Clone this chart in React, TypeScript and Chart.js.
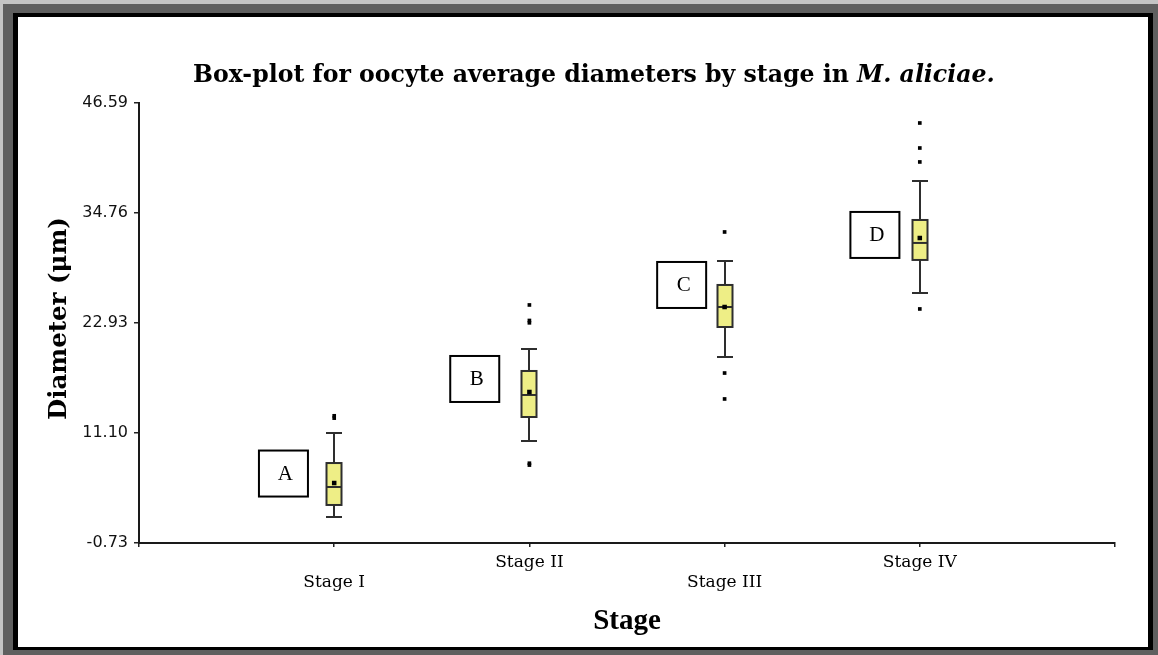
import React, { useEffect, useRef } from "react";
import { Chart, registerables } from "chart.js";

Chart.register(...registerables);

// ---- Data ----
const categories = ["Stage I", "Stage II", "Stage III", "Stage IV"];
const groupLetters = ["A", "B", "C", "D"];
const whiskerLow = [2.07, 10.24, 19.27, 26.16];
const q1 = [3.36, 12.82, 22.5, 29.71];
const median = [5.29, 15.19, 24.65, 31.54];
const q3 = [7.87, 17.77, 27.02, 34.01];
const whiskerHigh = [11.1, 20.13, 29.6, 38.2];
const means = [5.72, 15.51, 24.65, 32.07];
const outliers = [
  [12.95, 12.7],
  [24.87, 23.2, 22.95, 7.85, 7.65],
  [32.72, 17.55, 14.76],
  [44.44, 41.75, 40.25, 24.44],
];
const yTickValues = [-0.73, 11.1, 22.93, 34.76, 46.59];
const xTickValues = [0, 1, 2, 3, 4, 5];

// annotation (letter boxes) anchors, in axis units
const letterBoxX = [0.74, 1.72, 2.78, 3.77];
const letterBoxY = [6.74, 16.91, 27.02, 32.4];

const TITLE_MAIN = "Box-plot for oocyte average diameters by stage in ";
const TITLE_ITALIC = "M. aliciae.";
const Y_TITLE = "Diameter (\u03bcm)";
const X_TITLE = "Stage";

const framePlugin = {
  id: "frame",
  beforeDraw(chart: any) {
    const { ctx, width, height } = chart;
    ctx.save();
    ctx.fillStyle = "#c4c4c4";
    ctx.fillRect(0, 0, width, height);
    ctx.fillStyle = "#5f5f5f";
    ctx.fillRect(3, 4, width - 3, height - 4);
    ctx.fillStyle = "#000";
    ctx.fillRect(13, 13, 1153 - 13, 650 - 13);
    ctx.fillStyle = "#fff";
    ctx.fillRect(18, 17, 1148 - 18, 647 - 17);
    ctx.restore();
  },
};

const boxPlugin = {
  id: "boxes",
  beforeDatasetsDraw(chart: any) {
    const { ctx } = chart;
    const xs = chart.scales.x;
    const ys = chart.scales.y;
    ctx.save();
    categories.forEach((_, i) => {
      const cx = Math.round(xs.getPixelForValue(i + 1));
      const yWL = ys.getPixelForValue(whiskerLow[i]);
      const yQ1 = ys.getPixelForValue(q1[i]);
      const yMed = ys.getPixelForValue(median[i]);
      const yQ3 = ys.getPixelForValue(q3[i]);
      const yWH = ys.getPixelForValue(whiskerHigh[i]);
      ctx.strokeStyle = "#2e2e2e";
      ctx.lineWidth = 2;
      ctx.beginPath();
      ctx.moveTo(cx, yWL);
      ctx.lineTo(cx, yQ1);
      ctx.moveTo(cx, yQ3);
      ctx.lineTo(cx, yWH);
      ctx.moveTo(cx - 8, yWL);
      ctx.lineTo(cx + 8, yWL);
      ctx.moveTo(cx - 8, yWH);
      ctx.lineTo(cx + 8, yWH);
      ctx.stroke();
      const bw = 15;
      ctx.fillStyle = "#eeee86";
      ctx.fillRect(cx - bw / 2, yQ3, bw, yQ1 - yQ3);
      ctx.strokeRect(cx - bw / 2, yQ3, bw, yQ1 - yQ3);
      ctx.beginPath();
      ctx.moveTo(cx - bw / 2, yMed);
      ctx.lineTo(cx + bw / 2, yMed);
      ctx.stroke();
    });
    ctx.restore();
  },
};

function fitFont(ctx: CanvasRenderingContext2D, text: string, style: string, family: string, target: number) {
  ctx.font = `${style} 20px ${family}`;
  const w = ctx.measureText(text).width;
  return (20 * target) / w;
}

const textPlugin = {
  id: "texts",
  afterDraw(chart: any) {
    const { ctx, chartArea } = chart;
    const xs = chart.scales.x;
    const ys = chart.scales.y;
    ctx.save();
    ctx.fillStyle = "#000";
    ctx.textBaseline = "alphabetic";
    ctx.textAlign = "left";

    // Title (bold + bold italic), fitted to the reference width
    const fam = '"DejaVu Serif"';
    ctx.font = `bold 20px ${fam}`;
    const a = ctx.measureText(TITLE_MAIN).width;
    ctx.font = `italic bold 20px ${fam}`;
    const b = ctx.measureText(TITLE_ITALIC).width;
    const size = (20 * 802) / (a + b);
    ctx.font = `bold ${size}px ${fam}`;
    const w1 = ctx.measureText(TITLE_MAIN).width;
    ctx.fillText(TITLE_MAIN, 193, 82);
    ctx.font = `italic bold ${size}px ${fam}`;
    ctx.fillText(TITLE_ITALIC, 193 + w1, 82);

    // Y axis title
    ctx.save();
    const ysz = fitFont(ctx, Y_TITLE, "bold", fam, 203);
    ctx.font = `bold ${ysz}px ${fam}`;
    ctx.translate(66, 420);
    ctx.rotate(-Math.PI / 2);
    ctx.textAlign = "left";
    ctx.fillText(Y_TITLE, 0, 0);
    ctx.restore();

    // X axis title
    ctx.font = 'bold 29px "Liberation Serif"';
    ctx.textAlign = "center";
    ctx.fillText(X_TITLE, (chartArea.left + chartArea.right) / 2, 629);

    // Letter boxes
    groupLetters.forEach((L, i) => {
      const cx = xs.getPixelForValue(letterBoxX[i]);
      const cy = ys.getPixelForValue(letterBoxY[i]);
      const w = 49, h = 46;
      ctx.fillStyle = "#fff";
      ctx.fillRect(cx - w / 2, cy - h / 2, w, h);
      ctx.strokeStyle = "#000";
      ctx.lineWidth = 2;
      ctx.strokeRect(cx - w / 2, cy - h / 2, w, h);
      ctx.fillStyle = "#000";
      ctx.font = '21px "Liberation Serif"';
      ctx.textAlign = "center";
      ctx.textBaseline = "middle";
      ctx.fillText(L, cx + 2, cy + 1);
    });
    ctx.restore();
  },
};

export default function App() {
  const ref = useRef<HTMLCanvasElement>(null);
  useEffect(() => {
    document.body.style.margin = "0";
    const outlierPoints = outliers.flatMap((arr, i) => arr.map((v) => ({ x: i + 1, y: v })));
    const meanPoints = means.map((v, i) => ({ x: i + 1, y: v }));
    const chart = new Chart(ref.current as HTMLCanvasElement, {
      type: "scatter",
      data: {
        datasets: [
          {
            label: "Outliers",
            data: outlierPoints,
            pointStyle: "rect",
            pointRadius: 2.6,
            backgroundColor: "#000",
            borderWidth: 0,
          },
          {
            label: "Mean",
            data: meanPoints,
            pointStyle: "rect",
            pointRadius: 3.2,
            backgroundColor: "#000",
            borderWidth: 0,
          },
        ],
      },
      options: {
        responsive: false,
        animation: false,
        devicePixelRatio: 1,
        layout: { padding: { left: 0, top: 103, right: 43, bottom: 0 } },
        plugins: {
          legend: { display: false },
          tooltip: { enabled: false },
          title: { display: false },
        },
        scales: {
          x: {
            type: "linear",
            min: 0,
            max: 5,
            afterBuildTicks: (s: any) => {
              s.ticks = xTickValues.map((v) => ({ value: v }));
            },
            afterFit: (s: any) => {
              s.height = 112;
            },
            grid: { drawOnChartArea: false, tickLength: 4, color: "#222", lineWidth: 1.5 },
            border: { color: "#1a1a1a", width: 2 },
            ticks: {
              autoSkip: false,
              maxRotation: 0,
              minRotation: 0,
              padding: 6,
              color: "#000",
              font: { family: "DejaVu Serif", size: 17, lineHeight: 1.15 },
              callback: (v: any) => {
                const i = Number(v) - 1;
                if (i < 0 || i >= categories.length) return "";
                return i % 2 === 0 ? ["", categories[i]] : categories[i];
              },
            },
          },
          y: {
            type: "linear",
            min: yTickValues[0],
            max: yTickValues[yTickValues.length - 1],
            afterBuildTicks: (s: any) => {
              s.ticks = yTickValues.map((v) => ({ value: v }));
            },
            afterFit: (s: any) => {
              s.width = 139;
            },
            grid: { drawOnChartArea: false, tickLength: 5, color: "#222", lineWidth: 1.5 },
            border: { color: "#1a1a1a", width: 2 },
            ticks: {
              padding: 6,
              color: "#111",
              font: { family: "DejaVu Sans", size: 16 },
              callback: (v: any) => Number(v).toFixed(2),
            },
          },
        },
      },
      plugins: [framePlugin, boxPlugin, textPlugin],
    } as any);
    return () => chart.destroy();
  }, []);
  return (
    <div style={{ position: "absolute", left: 0, top: 0, width: 1158, height: 655 }}>
      <canvas ref={ref} width={1158} height={655} style={{ display: "block", width: 1158, height: 655 }} />
    </div>
  );
}
